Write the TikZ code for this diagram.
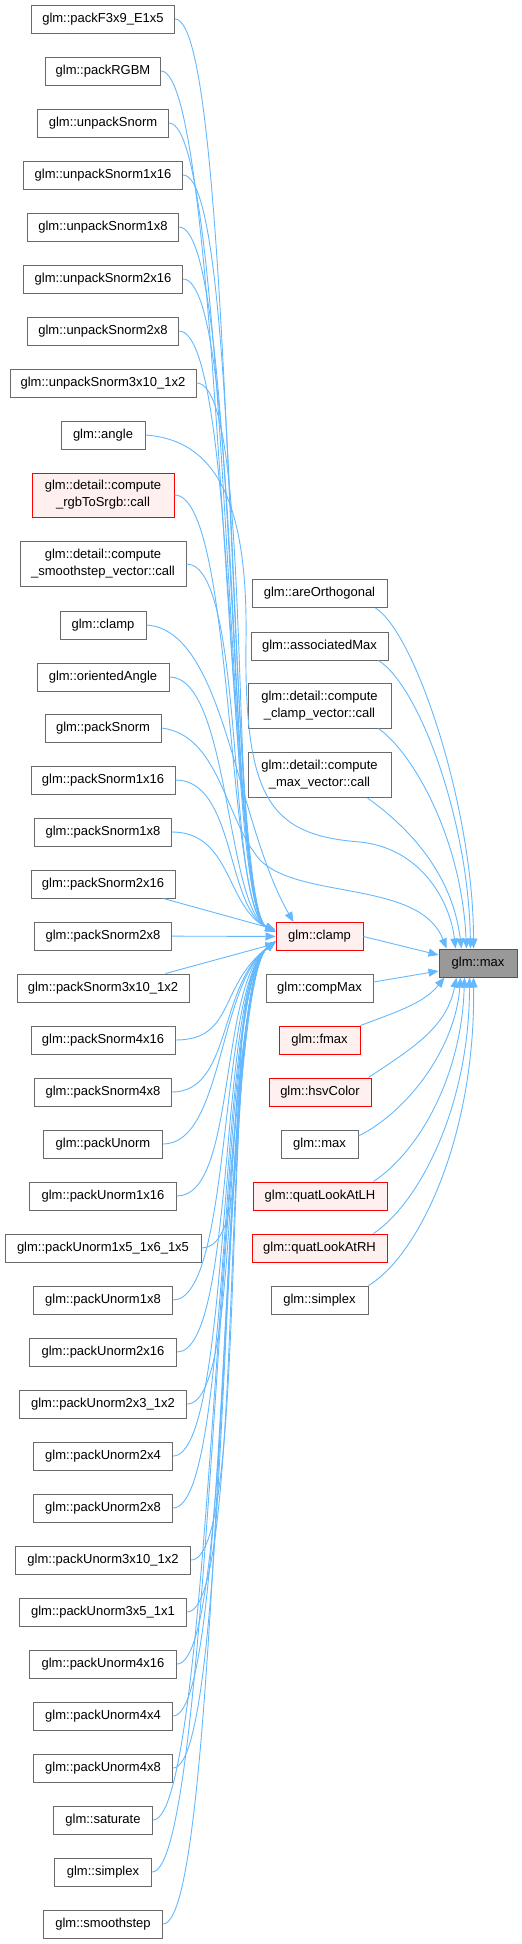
\documentclass[tikz,border=0pt]{standalone}
\usepackage{fontspec}
\setmainfont{Liberation Sans}
\usetikzlibrary{arrows.meta}
\definecolor{edgeblue}{HTML}{63B8FF}
\definecolor{boxgray}{HTML}{6A6A6A}
\definecolor{redfill}{HTML}{FFF0F0}
\definecolor{rootfill}{HTML}{999999}

\begin{document}
\begin{tikzpicture}[
		x=1pt, y=-1pt,
		every node/.style={font=\fontsize{13}{17}\selectfont},
		fn/.style={draw=boxgray, fill=white, line width=1pt, minimum height=28pt, inner sep=0pt, align=center},
		fnred/.style={fn, draw=red, fill=redfill},
		root/.style={fn, draw=boxgray!80!black, fill=rootfill},
		call/.style={draw=edgeblue, line width=0.9pt, -{Triangle[length=10pt,width=8pt]}}
	]
	\useasboundingbox (0,0) rectangle (522,1944);

	% Callers, left column
	\node[fn, minimum width=143pt] (pf3x9) at (103,19) {glm::packF3x9\_E1x5};
	\node[fn, minimum width=115pt] (prgbm) at (103,71) {glm::packRGBM};
	\node[fn, minimum width=131pt] (upsn) at (103,123) {glm::unpackSnorm};
	\node[fn, minimum width=159pt] (upsn1x16) at (103,175) {glm::unpackSnorm1x16};
	\node[fn, minimum width=151pt] (upsn1x8) at (103,227) {glm::unpackSnorm1x8};
	\node[fn, minimum width=159pt] (upsn2x16) at (103,279) {glm::unpackSnorm2x16};
	\node[fn, minimum width=151pt] (upsn2x8) at (103,331) {glm::unpackSnorm2x8};
	\node[fn, minimum width=186pt] (upsn3x10) at (103,383) {glm::unpackSnorm3x10\_1x2};
	\node[fn, minimum width=84pt] (angle) at (103,435) {glm::angle};
	\node[fnred, minimum width=142pt, minimum height=44pt] (rgbsrgb) at (103,495) {glm::detail::compute\\\_rgbToSrgb::call};
	\node[fn, minimum width=166pt, minimum height=45pt] (smoothvec) at (103,564) {glm::detail::compute\\\_smoothstep\_vector::call};
	\node[fn, minimum width=86pt] (clampl) at (103,625) {glm::clamp};
	\node[fn, minimum width=132pt] (orangle) at (103,677) {glm::orientedAngle};
	\node[fn, minimum width=116pt] (psn) at (103,728) {glm::packSnorm};
	\node[fn, minimum width=144pt] (psn1x16) at (103,780) {glm::packSnorm1x16};
	\node[fn, minimum width=137pt] (psn1x8) at (103,832) {glm::packSnorm1x8};
	\node[fn, minimum width=144pt] (psn2x16) at (103,884) {glm::packSnorm2x16};
	\node[fn, minimum width=137pt] (psn2x8) at (103,936) {glm::packSnorm2x8};
	\node[fn, minimum width=172pt] (psn3x10) at (103,988) {glm::packSnorm3x10\_1x2};
	\node[fn, minimum width=144pt] (psn4x16) at (103,1040) {glm::packSnorm4x16};
	\node[fn, minimum width=137pt] (psn4x8) at (103,1092) {glm::packSnorm4x8};
	\node[fn, minimum width=119pt] (pun) at (103,1144) {glm::packUnorm};
	\node[fn, minimum width=147pt] (pun1x16) at (103,1196) {glm::packUnorm1x16};
	\node[fn, minimum width=196pt] (pun1x5) at (103,1248) {glm::packUnorm1x5\_1x6\_1x5};
	\node[fn, minimum width=139pt] (pun1x8) at (103,1300) {glm::packUnorm1x8};
	\node[fn, minimum width=147pt] (pun2x16) at (103,1352) {glm::packUnorm2x16};
	\node[fn, minimum width=167pt] (pun2x3) at (103,1404) {glm::packUnorm2x3\_1x2};
	\node[fn, minimum width=139pt] (pun2x4) at (103,1456) {glm::packUnorm2x4};
	\node[fn, minimum width=139pt] (pun2x8) at (103,1508) {glm::packUnorm2x8};
	\node[fn, minimum width=175pt] (pun3x10) at (103,1560) {glm::packUnorm3x10\_1x2};
	\node[fn, minimum width=167pt] (pun3x5) at (103,1612) {glm::packUnorm3x5\_1x1};
	\node[fn, minimum width=147pt] (pun4x16) at (103,1664) {glm::packUnorm4x16};
	\node[fn, minimum width=139pt] (pun4x4) at (103,1716) {glm::packUnorm4x4};
	\node[fn, minimum width=139pt] (pun4x8) at (103,1768) {glm::packUnorm4x8};
	\node[fn, minimum width=99pt] (saturate) at (103,1820) {glm::saturate};
	\node[fn, minimum width=97pt] (simplexl) at (103,1872) {glm::simplex};
	\node[fn, minimum width=119pt] (smoothstep) at (103,1924) {glm::smoothstep};

	% Callers, middle column
	\node[fn, minimum width=135pt] (areorth) at (319.5,593.5) {glm::areOrthogonal};
	\node[fn, minimum width=137pt] (assocmax) at (319.5,646) {glm::associatedMax};
	\node[fn, minimum width=143pt, minimum height=45pt] (clampvec) at (319.5,705.5) {glm::detail::compute\\\_clamp\_vector::call};
	\node[fn, minimum width=143pt, minimum height=45pt] (maxvec) at (319.5,775) {glm::detail::compute\\\_max\_vector::call};
	\node[fnred, minimum width=87pt] (clamp) at (319.5,936.5) {glm::clamp};
	\node[fn, minimum width=107pt] (compmax) at (319.5,988) {glm::compMax};
	\node[fnred, minimum width=81pt] (fmax) at (319.5,1040) {glm::fmax};
	\node[fnred, minimum width=102pt] (hsv) at (320,1092) {glm::hsvColor};
	\node[fn, minimum width=77pt] (maxm) at (319.5,1144) {glm::max};
	\node[fnred, minimum width=134pt] (lookatlh) at (320,1196) {glm::quatLookAtLH};
	\node[fnred, minimum width=135pt] (lookatrh) at (319.5,1248) {glm::quatLookAtRH};
	\node[fn, minimum width=97pt] (simplexm) at (319.5,1300) {glm::simplex};

	% Root
	\node[root, minimum width=78pt] (max) at (478,963) {glm::max};

	% Arrows into glm::clamp
	\foreach \src in {pf3x9, prgbm, upsn, upsn1x16, upsn1x8, upsn2x16, upsn2x8, upsn3x10,
			rgbsrgb, smoothvec, orangle, psn1x16, psn1x8}
		\draw[call] (\src.east) .. controls +(60,0) and (226,908) .. ([yshift=5pt]clamp.west);
	\foreach \src in {psn4x16, psn4x8, pun, pun1x16, pun1x5, pun1x8, pun2x16, pun2x3, pun2x4,
			pun2x8, pun3x10, pun3x5, pun4x16, pun4x4, pun4x8, saturate, simplexl, smoothstep}
		\draw[call] (\src.east) .. controls +(60,0) and (218,985) .. ([yshift=-5pt]clamp.west);
	\draw[call] ([xshift=-12pt]psn2x16.south east) -- ([yshift=7pt]clamp.west);
	\draw[call] (psn2x8) -- (clamp);
	\draw[call] ([xshift=-24pt]psn3x10.north east) -- ([yshift=-7pt]clamp.west);
	\draw[call] (clampl.east) .. controls (225,630) and (235,820) .. ([xshift=18pt]clamp.north west);

	% Arrows into glm::max
	\draw[call] (clamp.east) -- ([yshift=8pt]max.west);
	\draw[call] ([yshift=6pt]compmax.east) -- ([yshift=-8pt]max.west);
	\draw[call] ([xshift=-12pt]areorth.south east) .. controls +(40,25) and +(0,-140) .. ([xshift=35pt]max.north west);
	\draw[call] ([xshift=-10pt]assocmax.south east) .. controls +(40,25) and +(-2,-130) .. ([xshift=32pt]max.north west);
	\draw[call] ([xshift=-13pt]clampvec.south east) .. controls +(35,25) and +(-5,-110) .. ([xshift=28pt]max.north west);
	\draw[call] ([xshift=-24pt]maxvec.south east) .. controls +(35,25) and +(-10,-80) .. ([xshift=23pt]max.north west);
	\draw[call] (angle.east) .. controls (215,440) and (248,500) .. (246,640)
		.. controls (244,800) and (270,835) .. (360,842)
		.. controls (420,848) and (450,900) .. ([xshift=17pt]max.north west);
	\draw[call] (psn.east) .. controls (220,735) and (225,820) .. (260,860)
		.. controls (300,900) and (420,880) .. ([xshift=8pt]max.north west);
	\draw[call] (fmax.north east) .. controls +(40,-15) and +(-20,25) .. ([xshift=6pt]max.south west);
	\draw[call] ([xshift=-3pt]hsv.north east) .. controls +(45,-30) and +(-10,50) .. ([xshift=18pt]max.south west);
	\draw[call] ([yshift=8pt]maxm.east) .. controls +(50,-25) and +(-5,70) .. ([xshift=22pt]max.south west);
	\draw[call] ([xshift=-14pt]lookatlh.north east) .. controls +(45,-30) and +(-3,100) .. ([xshift=26pt]max.south west);
	\draw[call] ([xshift=-14pt]lookatrh.north east) .. controls +(45,-30) and +(0,130) .. ([xshift=31pt]max.south west);
	\draw[call] (simplexm.north east) .. controls +(50,-30) and +(2,160) .. ([xshift=35pt]max.south west);

\end{tikzpicture}
\end{document}
